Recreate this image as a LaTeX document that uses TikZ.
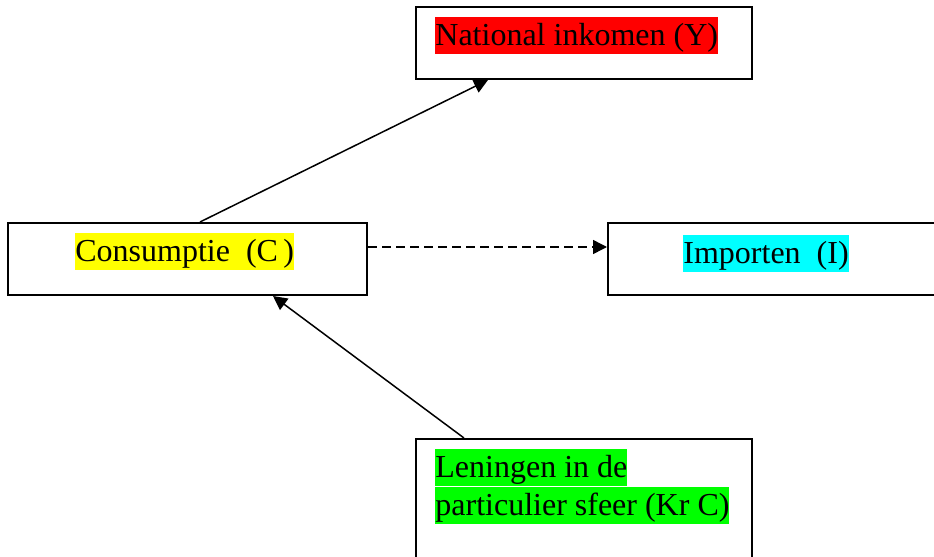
\documentclass[tikz,border=0pt]{standalone}
\usepackage{fontspec}
\setmainfont{Liberation Serif}
\usetikzlibrary{positioning,arrows.meta,calc}
\definecolor{hlred}{RGB}{255,0,0}
\definecolor{hlyellow}{RGB}{255,255,0}
\definecolor{hlcyan}{RGB}{0,255,255}
\definecolor{hlgreen}{RGB}{0,255,0}

\begin{document}
\begin{tikzpicture}[x=0.5pt,y=-0.5pt,
  box/.style={draw,line width=1pt,minimum height=36pt,inner sep=0pt},
  lbl/.style={inner sep=0pt,anchor=north west,text height=13.9pt,text depth=4.6pt,font=\fontsize{16}{18}\selectfont},
  arr/.style={line width=0.75pt,-{Triangle[length=7pt,width=7pt]}}]
\useasboundingbox (0,0) rectangle (934,557);
\clip (0,0) rectangle (934,557);
% boxes
\node[box,minimum width=168pt] (nat) at (584,43) {};
\node[box,minimum width=179.5pt] (cons) at (187.5,259) {};
\node[box,minimum width=170pt] (imp) at (778,259) {};
\node[box,minimum width=168pt,minimum height=70pt] (len) at (584,509) {};
% highlighted texts
\node[lbl,fill=hlred] (natlbl) at ([shift={(20,11)}]nat.north west) {National inkomen (Y)};
\node[lbl,fill=hlyellow] (conslbl) at ([shift={(68,11)}]cons.north west) {Consumptie\ \ (C\,)};
\node[lbl,fill=hlcyan] (implbl) at ([shift={(76,13)}]imp.north west) {Importen\ \ (I)};
\node[lbl,fill=hlgreen] (lenlbl) at ([shift={(20,11)}]len.north west) {Leningen in de};
\node[lbl,fill=hlgreen] (lenlblb) at (lenlbl.south west) {particulier sfeer (Kr C)};
% connectors
\draw[arr] ([xshift=6.25pt]cons.north) -- ([xshift=-48pt]nat.south);
\draw[arr,dash pattern=on 4.5pt off 2.5pt] ([yshift=6pt]cons.east) -- ([yshift=6pt]imp.west);
\draw[arr] ([xshift=-60pt]len.north) -- ([xshift=42.75pt]cons.south);
\end{tikzpicture}
\end{document}
